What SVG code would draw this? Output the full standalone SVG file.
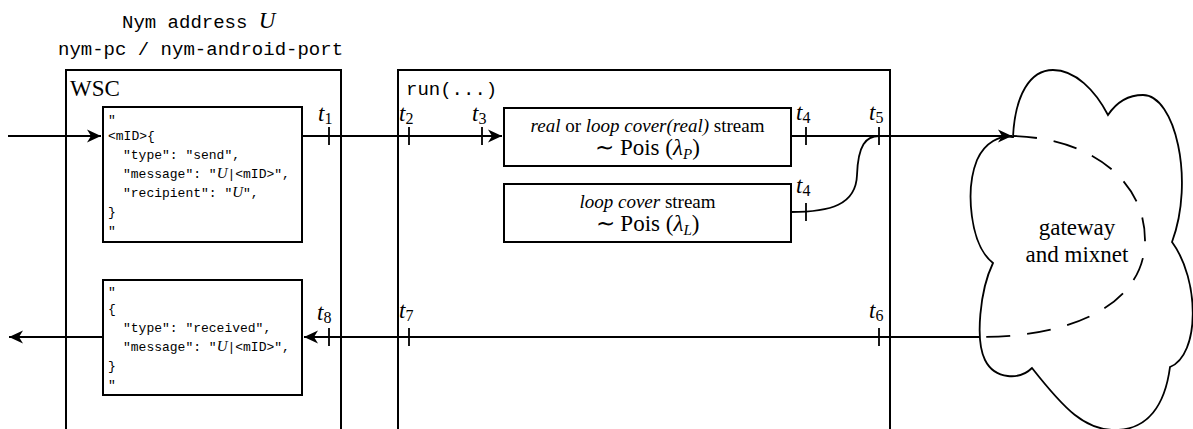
<svg xmlns="http://www.w3.org/2000/svg" width="1193" height="429" viewBox="0 0 1193 429">
<style>
.box{fill:none;stroke:#000;stroke-width:2}
.wbox{fill:#fff;stroke:#000;stroke-width:2}
.ln{fill:none;stroke:#000;stroke-width:1.8}
.tk{stroke:#000;stroke-width:1.8}
.js{font-size:13px;fill:#000}
.t{font-style:italic;font-size:23px;fill:#000}
.sub{font-style:normal;font-size:16px}
</style>
<defs>
<marker id="ah" viewBox="-15 -7 16 14" refX="0" refY="0" markerWidth="16" markerHeight="14" markerUnits="userSpaceOnUse" orient="auto">
<path d="M0,0 L-14,-6.5 L-10,0 L-14,6.5 Z" fill="#000"/>
</marker>
</defs>

<g id="title">
<text font-family="Liberation Mono, monospace" font-size="19" x="122" y="28">Nym address <tspan font-family="Liberation Serif, serif" font-style="italic" font-size="23">U</tspan></text>
<text font-family="Liberation Mono, monospace" font-size="19" x="58" y="55">nym-pc / nym-android-port</text>
</g>

<g id="wsc">
<rect class="box" x="66" y="70" width="275" height="380"/>
<text font-family="Liberation Serif, serif" font-size="23" x="70" y="96">WSC</text>
</g>

<g id="run">
<rect class="box" x="398" y="70" width="492" height="380"/>
<text font-family="Liberation Mono, monospace" font-size="19" x="406" y="95">run(...)</text>
</g>

<g id="send-json" font-family="Liberation Mono, monospace">
<rect class="wbox" x="103" y="107" width="199" height="135"/>
<text class="js" x="108" y="124">"</text>
<text class="js" x="108" y="140">&lt;mID&gt;{</text>
<text class="js" x="123" y="159">"type": "send",</text>
<text class="js" x="123" y="178">"message": "<tspan font-family="Liberation Serif, serif" font-style="italic" font-size="15">U</tspan>|&lt;mID&gt;",</text>
<text class="js" x="123" y="197">"recipient": "<tspan font-family="Liberation Serif, serif" font-style="italic" font-size="15">U</tspan>",</text>
<text class="js" x="108" y="216">}</text>
<text class="js" x="108" y="235">"</text>
</g>

<g id="recv-json" font-family="Liberation Mono, monospace">
<rect class="wbox" x="103" y="280" width="199" height="115"/>
<text class="js" x="108" y="296">"</text>
<text class="js" x="108" y="313">{</text>
<text class="js" x="123" y="332">"type": "received",</text>
<text class="js" x="123" y="351">"message": "<tspan font-family="Liberation Serif, serif" font-style="italic" font-size="15">U</tspan>|&lt;mID&gt;",</text>
<text class="js" x="108" y="370">}</text>
<text class="js" x="108" y="389">"</text>
</g>

<g id="real-stream" font-family="Liberation Serif, serif">
<rect class="wbox" x="504" y="108" width="287" height="58"/>
<text font-size="19" x="647.5" y="132" text-anchor="middle"><tspan font-style="italic">real</tspan> or <tspan font-style="italic">loop cover(real)</tspan> stream</text>
<text font-size="23" x="647.5" y="155" text-anchor="middle">∼ Pois (<tspan font-style="italic">λ</tspan><tspan font-style="italic" font-size="15" dy="4">P</tspan><tspan dy="-4">)</tspan></text>
</g>

<g id="loop-stream" font-family="Liberation Serif, serif">
<rect class="wbox" x="504" y="184" width="287" height="58"/>
<text font-size="19" x="647.5" y="208" text-anchor="middle"><tspan font-style="italic">loop cover</tspan> stream</text>
<text font-size="23" x="647.5" y="231" text-anchor="middle">∼ Pois (<tspan font-style="italic">λ</tspan><tspan font-style="italic" font-size="15" dy="4">L</tspan><tspan dy="-4">)</tspan></text>
</g>

<g id="mixnet">
<path fill="#fff" stroke="#000" stroke-width="1.8" d="M1013,137 C1015,95 1030,70 1053,70 C1075,70 1095,90 1108,115 C1118,100 1130,95 1143,95 C1175,95 1195,180 1172,242 C1200,280 1200,355 1170,367 C1165,405 1148,430 1115,430 C1085,430 1065,410 1032,368 C1020,380 995,380 985,360 C975,340 980,290 993,263 C970,245 965,190 977,160 C985,142 1000,135 1013,137 Z"/>
<path fill="none" stroke="#000" stroke-width="1.8" stroke-dasharray="24,17" d="M1013,136 C1090,138 1145,180 1145,240 C1145,300 1080,337 980,337"/>
<text font-family="Liberation Serif, serif" font-size="23" x="1077" y="235" text-anchor="middle">gateway</text>
<text font-family="Liberation Serif, serif" font-size="23" x="1077" y="262" text-anchor="middle">and mixnet</text>
</g>

<g id="connectors">
<path class="ln" d="M8,136 H101" marker-end="url(#ah)"/>
<path class="ln" d="M302,136 H502" marker-end="url(#ah)"/>
<path class="ln" d="M791,136 H1012" marker-end="url(#ah)"/>
<path class="ln" d="M791,212 C830,212 856,205 857,175 C858,145 866,136 879,136"/>
<path class="ln" d="M980,337 H304" marker-end="url(#ah)"/>
<path class="ln" d="M103,337 H9" marker-end="url(#ah)"/>
<g class="tk">
<line x1="329" y1="127" x2="329" y2="145"/>
<line x1="409" y1="127" x2="409" y2="145"/>
<line x1="482" y1="127" x2="482" y2="145"/>
<line x1="806" y1="127" x2="806" y2="145"/>
<line x1="879" y1="127" x2="879" y2="145"/>
<line x1="806" y1="203" x2="806" y2="221"/>
<line x1="329" y1="328" x2="329" y2="346"/>
<line x1="409" y1="328" x2="409" y2="346"/>
<line x1="879" y1="328" x2="879" y2="346"/>
</g>
<g font-family="Liberation Serif, serif">
<text class="t" x="318" y="121">t<tspan class="sub" dy="3">1</tspan></text>
<text class="t" x="399" y="121">t<tspan class="sub" dy="3">2</tspan></text>
<text class="t" x="472" y="121">t<tspan class="sub" dy="3">3</tspan></text>
<text class="t" x="796" y="120">t<tspan class="sub" dy="3">4</tspan></text>
<text class="t" x="869" y="120">t<tspan class="sub" dy="3">5</tspan></text>
<text class="t" x="796" y="193">t<tspan class="sub" dy="3">4</tspan></text>
<text class="t" x="869" y="318">t<tspan class="sub" dy="3">6</tspan></text>
<text class="t" x="399" y="318">t<tspan class="sub" dy="3">7</tspan></text>
<text class="t" x="317" y="320">t<tspan class="sub" dy="3">8</tspan></text>
</g>
</g>
</svg>
